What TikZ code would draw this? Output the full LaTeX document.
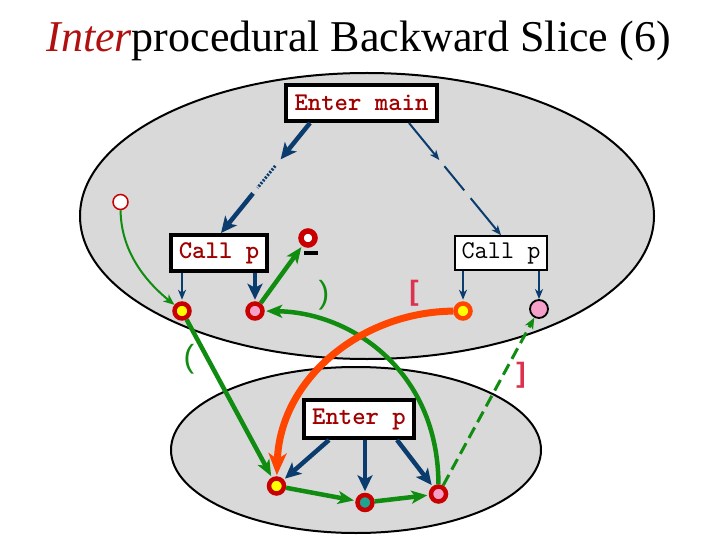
\documentclass[tikz,border=0pt]{standalone}
\usepackage{fontspec}
\setmainfont{Liberation Serif}
\newfontfamily\sansfont{Liberation Sans}
\usetikzlibrary{arrows.meta,calc}
\definecolor{ellgray}{RGB}{217,217,217}
\definecolor{navy}{RGB}{10,60,110}
\definecolor{grn}{RGB}{16,140,16}
\definecolor{ringred}{RGB}{200,0,0}
\definecolor{txtred}{RGB}{160,0,0}
\definecolor{intercol}{RGB}{176,16,16}
\definecolor{orng}{RGB}{255,70,0}
\definecolor{pinkf}{RGB}{245,160,200}
\definecolor{tealf}{RGB}{30,165,145}
\definecolor{yellowf}{RGB}{255,255,0}
\definecolor{brk}{RGB}{220,50,80}
\tikzset{
  ell/.style={draw=black, line width=2pt, fill=ellgray},
  thickbox/.style={draw=black, line width=4pt, fill=white, inner sep=0pt, text=txtred,
    font=\ttfamily\bfseries\fontsize{25.5}{27}\selectfont},
  thinbox/.style={draw=black, line width=1.5pt, fill=white, inner sep=0pt, text=black,
    font=\ttfamily\fontsize{25.5}{27}\selectfont},
  ring/.style={circle, draw=ringred, line width=4.5pt, minimum size=15pt, inner sep=0pt},
  bthick/.style={draw=navy, line width=4.5pt, -{Stealth[length=16pt,width=15pt,inset=4pt]}},
  bthin/.style={draw=navy, line width=2pt, -{Stealth[length=10pt,width=8pt,inset=3pt]}},
  gthick/.style={draw=grn, line width=4.5pt, -{Stealth[length=16pt,width=13pt,inset=4pt]}, shorten >=1.5pt},
  gthin/.style={draw=grn, line width=2pt, -{Stealth[length=11pt,width=9pt,inset=3pt]}},
  gdash/.style={draw=grn, line width=3pt, dash pattern=on 12pt off 6pt, -{Stealth[length=11pt,width=9pt,inset=3pt]}},
  obig/.style={draw=orng, line width=7pt, -{Stealth[length=22pt,width=18pt,inset=6pt]}, shorten >=1pt},
  paren/.style={text=grn, inner sep=0pt, font=\sansfont\fontsize{32}{32}\selectfont},
  brack/.style={text=brk, inner sep=0pt, font=\sansfont\bfseries\fontsize{28}{28}\selectfont}
}
\begin{document}
\begin{tikzpicture}[x=1pt,y=-1pt]
\useasboundingbox (0,0) rectangle (720,540);
% title
\node[font=\fontsize{44}{48}\selectfont, anchor=base, inner sep=0pt] (title) at (358.5,52)
  {\textcolor{intercol}{\itshape Inter}procedural Backward Slice (6)};
% ellipses
\draw[ell] (367,216) ellipse [x radius=287, y radius=143];
\draw[ell] (356,450) ellipse [x radius=185, y radius=83];
% boxes
\node[thickbox, minimum width=151pt, minimum height=36pt] (em) at (361.5,103) {Enter main};
\node[thickbox, minimum width=96pt, minimum height=36pt] (cp1) at (219,253) {Call p};
\node[thinbox, minimum width=92pt, minimum height=34pt] (cp2) at (501,253) {Call p};
\node[thickbox, minimum width=110pt, minimum height=38pt] (ep) at (359,419) {Enter p};
% circles
\node[circle, draw=ringred, line width=1.5pt, fill=white, minimum size=15pt, inner sep=0pt] (oc) at (120.5,202) {};
\node[circle, draw=ringred, line width=5.5pt, fill=white, minimum size=14pt, inner sep=0pt] (mc) at (308,238) {};
\fill[black] (304,250.5) rectangle (318,254.5);
\node[ring, fill=yellowf] (c1) at (182,311) {};
\node[ring, fill=pinkf] (c2) at (255,311) {};
\node[ring, draw=orng, fill=yellowf] (c3) at (463,311) {};
\node[circle, draw=black, line width=1.8pt, fill=pinkf, minimum size=18pt, inner sep=0pt] (c4) at (539,309) {};
\node[ring, fill=yellowf] (b1) at (276.5,486) {};
\node[ring, fill=tealf] (b2) at (365,502.5) {};
\node[ring, fill=pinkf] (b3) at (438.5,494) {};
% Enter main -> Call p (left), with ellipsis
\coordinate (s1) at ([xshift=26pt]em.south west);
\coordinate (e1) at ([xshift=2pt]cp1.north);
\draw[bthick] (s1) -- ($(s1)!0.33!(e1)$);
\draw[navy, line width=3pt, dash pattern=on 2pt off 1.5pt] ($(s1)!0.39!(e1)$) -- ($(s1)!0.59!(e1)$);
\draw[bthick] ($(s1)!0.64!(e1)$) -- (e1);
% Enter main -> Call p (right)
\coordinate (s2) at ([xshift=-30pt]em.south east);
\coordinate (e2) at (cp2.north);
\draw[bthin] (s2) -- ($(s2)!0.33!(e2)$);
\draw[navy, line width=2pt] ($(s2)!0.385!(e2)$) -- ($(s2)!0.6!(e2)$);
\draw[bthin] ($(s2)!0.67!(e2)$) -- (e2);
% vertical blue arrows
\draw[bthin, shorten >=1.5pt] (c1 |- cp1.south) -- (c1);
\draw[bthick, shorten >=1.5pt] (c2 |- cp1.south) -- (c2);
\draw[bthin, shorten >=1.5pt] (c3 |- cp2.south) -- (c3);
\draw[bthin] (c4 |- cp2.south) -- (c4);
% Enter p arrows
\draw[bthick, shorten >=1.5pt] ([xshift=-30pt]ep.south) -- (b1);
\draw[bthick, shorten >=1.5pt] (b2 |- ep.south) -- (b2);
\draw[bthick, shorten >=1.5pt] ([xshift=38pt]ep.south) -- (b3);
% green edges
\draw[gthin] (oc) .. controls (121,255) and (150,285) .. (c1);
\draw[gthick] (c2) -- (mc);
\draw[gthick] (c1) -- (b1);
\draw[gthick] (b1) -- (b2);
\draw[gthick] (b2) -- (b3);
\draw[gthick] (b3) .. controls (438,370) and (350,312) .. (c2);
\draw[gdash] (b3) -- (c4);
% orange edge
\draw[obig] (c3) .. controls (360,312) and (280,380) .. (b1);
% labels
\node[paren] (rp) at (324,295) {)};
\node[paren] (lp) at (189,359) {(};
\node[brack] (lb) at (414,293) {[};
\node[brack] (rb) at (521,375) {]};
\end{tikzpicture}
\end{document}
